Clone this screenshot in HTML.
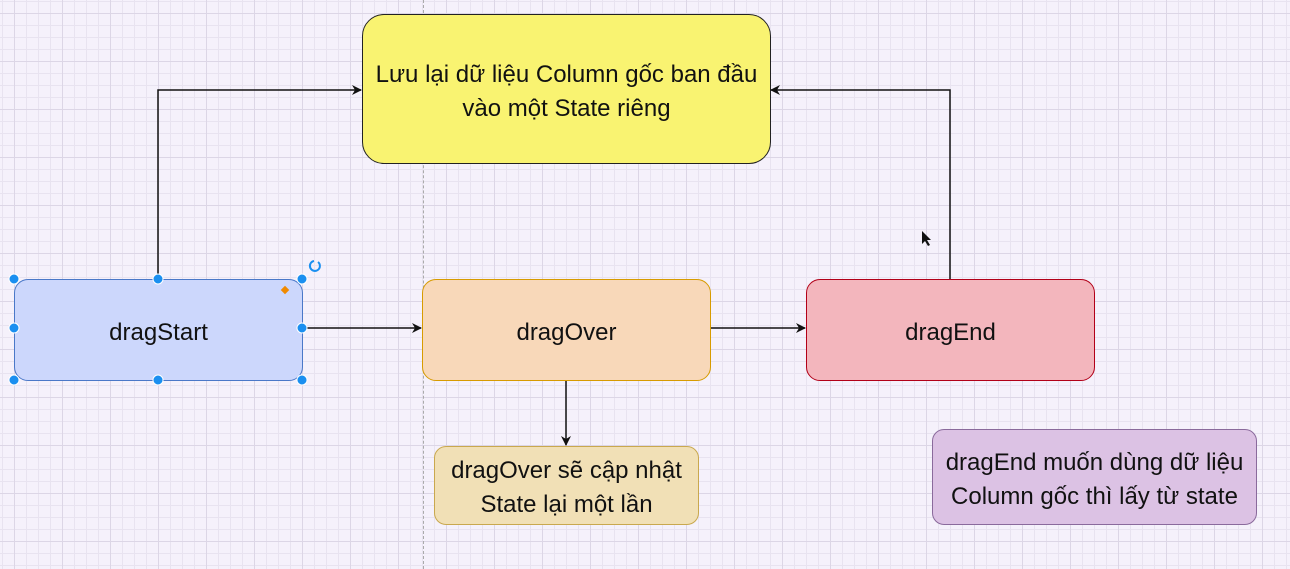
<!DOCTYPE html>
<html><head><meta charset="utf-8"><style>
html,body{margin:0;padding:0}
body{width:1290px;height:569px;overflow:hidden;position:relative;font-family:"Liberation Sans",sans-serif;
background-color:#f5f1fb;
background-image:
linear-gradient(to right,#dcd6e6 1px,transparent 1px),
linear-gradient(to bottom,#dcd6e6 1px,transparent 1px),
linear-gradient(to right,#e8e3f0 1px,transparent 1px),
linear-gradient(to bottom,#e8e3f0 1px,transparent 1px);
background-size:48px 48px,48px 48px,12px 12px,12px 12px;
background-position:14px 13px,14px 13px,2px 1px,2px 1px;}
.b{position:absolute;box-sizing:border-box;display:flex;align-items:center;justify-content:center;text-align:center;color:#111;font-size:24px;line-height:34px;padding-top:5px}
</style></head><body>
<div style="position:absolute;left:423px;top:0;height:569px;border-left:1px dashed #aaa"></div>
<svg width="1290" height="569" style="position:absolute;left:0;top:0">
<defs><marker id="a" markerWidth="10" markerHeight="10" refX="9" refY="5" orient="auto" markerUnits="userSpaceOnUse"><path d="M0,0 L10,5 L0,10 L3,5z" fill="#111"/></marker></defs>
<g stroke="#111" stroke-width="1.5" fill="none">
<path d="M158,279 V90 H361" marker-end="url(#a)"/>
<path d="M950,279 V90 H771" marker-end="url(#a)"/>
<path d="M302,328 H421" marker-end="url(#a)"/>
<path d="M710,328 H805" marker-end="url(#a)"/>
<path d="M566,380 V445" marker-end="url(#a)"/>
</g>
</svg>
<div class="b" style="left:362px;top:14px;width:409px;height:150px;background:#f9f371;border:1.5px solid #222;border-radius:22px">Lưu lại dữ liệu Column gốc ban đầu<br>vào một State riêng</div>
<div class="b" style="left:14px;top:279px;width:289px;height:102px;background:#ccd7fc;border:1px solid #4a78c8;border-radius:14px">dragStart</div>
<div class="b" style="left:422px;top:279px;width:289px;height:102px;background:#f8d8b9;border:1px solid #d79b00;border-radius:14px">dragOver</div>
<div class="b" style="left:806px;top:279px;width:289px;height:102px;background:#f3b6bd;border:1px solid #b20018;border-radius:14px">dragEnd</div>
<div class="b" style="left:434px;top:446px;width:265px;height:79px;background:#f1e0b6;border:1px solid #c9a84e;border-radius:12px">dragOver sẽ cập nhật<br>State lại một lần</div>
<div class="b" style="left:932px;top:429px;width:325px;height:96px;background:#dcc2e4;border:1px solid #8a6a9c;border-radius:12px">dragEnd muốn dùng dữ liệu<br>Column gốc thì lấy từ state</div>
<svg width="1290" height="569" style="position:absolute;left:0;top:0">
<g fill="#1a8ff0" stroke="#fff" stroke-width="1">
<circle cx="14" cy="279" r="5"/><circle cx="158" cy="279" r="5"/><circle cx="302" cy="279" r="5"/>
<circle cx="14" cy="328" r="5"/><circle cx="302" cy="328" r="5"/>
<circle cx="14" cy="380" r="5"/><circle cx="158" cy="380" r="5"/><circle cx="302" cy="380" r="5"/>
</g>
<rect x="282" y="287" width="6" height="6" fill="#f08a00" transform="rotate(45 285 290)"/>
<path d="M318,262 A5,5 0 1 1 314,261" stroke="#1a8ff0" stroke-width="2" fill="none"/>
<path d="M922,231 L922,244 L925,241 L928,246 L930,245 L927,240 L931,240 Z" fill="#111"/>
</svg>
</body></html>
